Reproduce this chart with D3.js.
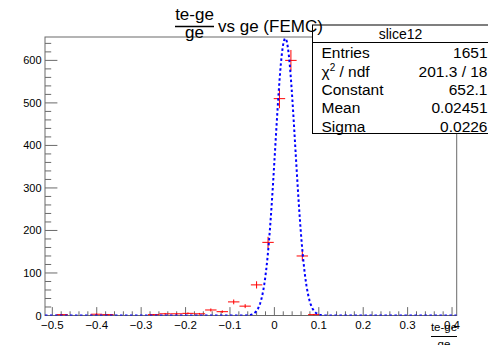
<!DOCTYPE html>
<html>
<head>
<meta charset="utf-8">
<script src="https://cdn.jsdelivr.net/npm/d3@7"></script>
<style>
  html, body { margin: 0; padding: 0; background: #fff; }
  svg { display: block; font-family: "Liberation Sans", Arial, Helvetica, sans-serif; }
</style>
</head>
<body>
<div id="chart"></div>
<script>
// ---- data ----
const binCenters = [-0.4779, -0.4006, -0.3748, -0.2718, -0.2461, -0.2203, -0.1946, -0.1688,
                    -0.1431, -0.1173, -0.0916, -0.0658, -0.0401, -0.0143, 0.0114, 0.0372, 0.0629, 0.0887];
const binCounts  = [2, 3, 2, 2, 4, 4, 5, 4,
                    13, 9, 32, 22, 72, 172, 510, 600, 140, 2];
const binWidth = 0.02575;
const xRange = [-0.5165, 0.4105];
const yRange = [0, 655];
const xTickLabels = ["\u22120.5", "\u22120.4", "\u22120.3", "\u22120.2", "\u22120.1", "0", "0.1", "0.2", "0.3", "0.4"];
const xTickValues = [-0.5, -0.4, -0.3, -0.2, -0.1, 0, 0.1, 0.2, 0.3, 0.4];
const yTickValues = [0, 100, 200, 300, 400, 500, 600];
const fitConstant = 652.1;
const fitMean = 0.02451;
const fitSigma = 0.0226;
const statsTitle = "slice12";
const statsLabels = ["Entries", "\u03C7", "Constant", "Mean", "Sigma"];
const statsValues = ["1651", "201.3 / 18", "652.1", "0.02451", "0.0226"];

// ---- layout ----
const W = 488, H = 345;
const frame = {left: 45, right: 456.7, top: 37, bottom: 315.5};

const svg = d3.select("#chart").append("svg").attr("width", W).attr("height", H);
svg.append("rect").attr("width", W).attr("height", H).attr("fill", "#fff");

const x = d3.scaleLinear().domain(xRange).range([frame.left, frame.right]);
const y = d3.scaleLinear().domain(yRange).range([frame.bottom, frame.top]);

const axisColor = "#6a6a6a";

// frame
svg.append("rect")
  .attr("x", frame.left).attr("y", frame.top)
  .attr("width", frame.right - frame.left).attr("height", frame.bottom - frame.top)
  .attr("fill", "none").attr("stroke", axisColor).attr("stroke-width", 1);

// x axis ticks (drawn upward, inside frame)
const xMinor = d3.range(-0.5, 0.4001, 0.02).map(v => +v.toFixed(3));
const xAx = svg.append("g");
xAx.selectAll("line.minor").data(xMinor).enter().append("line")
  .attr("x1", d => x(d)).attr("x2", d => x(d))
  .attr("y1", frame.bottom).attr("y2", d => frame.bottom - (xTickValues.some(t => Math.abs(t - d) < 1e-6) ? 8.4 : 4.2))
  .attr("stroke", axisColor).attr("stroke-width", 1);
xAx.selectAll("text").data(xTickValues).enter().append("text")
  .attr("x", d => x(d)).attr("y", 329)
  .attr("text-anchor", "middle").attr("font-size", 11.5).attr("fill", "#000")
  .text((d, i) => xTickLabels[i]);

// y axis ticks (drawn rightward)
const yMinor = d3.range(0, 641, 20);
const yAx = svg.append("g");
yAx.selectAll("line").data(yMinor).enter().append("line")
  .attr("x1", frame.left).attr("x2", d => frame.left + (d % 100 === 0 ? 12.4 : 6.2))
  .attr("y1", d => y(d)).attr("y2", d => y(d))
  .attr("stroke", axisColor).attr("stroke-width", 1);
yAx.selectAll("text").data(yTickValues).enter().append("text")
  .attr("x", 41.5).attr("y", d => y(d) + 4)
  .attr("text-anchor", "end").attr("font-size", 11).attr("fill", "#000")
  .text(d => d);

// clip
svg.append("clipPath").attr("id", "fclip").append("rect")
  .attr("x", frame.left).attr("y", frame.top - 3)
  .attr("width", frame.right - frame.left).attr("height", frame.bottom - frame.top + 3);

// histogram error bars
const hist = svg.append("g").attr("stroke", "#ff0000").attr("stroke-width", 1);
binCenters.forEach((c, i) => {
  const n = binCounts[i];
  const e = Math.sqrt(n);
  hist.append("line")
    .attr("x1", x(c - binWidth / 2)).attr("x2", x(c + binWidth / 2))
    .attr("y1", y(n)).attr("y2", y(n));
  hist.append("line")
    .attr("x1", x(c)).attr("x2", x(c))
    .attr("y1", y(n - e)).attr("y2", y(n + e));
});

// gaussian fit curve (from fit parameters)
const fitX = d3.range(0, 401).map(i => xRange[0] + (xRange[1] - xRange[0]) * i / 400);
const gauss = v => fitConstant * Math.exp(-0.5 * Math.pow((v - fitMean) / fitSigma, 2));
svg.append("path")
  .datum(fitX)
  .attr("clip-path", "url(#fclip)")
  .attr("d", d3.line().x(d => x(d)).y(d => y(gauss(d))))
  .attr("fill", "none").attr("stroke", "#0000ff").attr("stroke-width", 2)
  .attr("stroke-dasharray", "2.5,2.5");

// stats box
const sb = {x: 312.5, y: 25, w: 180, h: 108.5};
svg.append("rect").attr("x", sb.x).attr("y", sb.y).attr("width", sb.w).attr("height", sb.h)
  .attr("fill", "#fff").attr("stroke", "#000").attr("stroke-width", 1);
svg.append("line").attr("x1", sb.x).attr("x2", W).attr("y1", 42.5).attr("y2", 42.5)
  .attr("stroke", "#000").attr("stroke-width", 1);
svg.append("text").attr("x", 400.5).attr("y", 39).attr("text-anchor", "middle")
  .attr("font-size", 14).text(statsTitle);
const rowY = [58, 76.5, 95, 113.3, 131.5];
statsLabels.forEach((lab, i) => {
  const t = svg.append("text").attr("x", 321.5).attr("y", rowY[i]).attr("font-size", 15.5);
  if (i === 1) {
    t.append("tspan").text(lab);
    t.append("tspan").attr("font-size", 10).attr("dy", -6).text("2");
    t.append("tspan").attr("dy", 6).text(" / ndf");
  } else {
    t.text(lab);
  }
  svg.append("text").attr("x", 487.5).attr("y", rowY[i]).attr("text-anchor", "end")
    .attr("font-size", 15.5).text(statsValues[i]);
});

// title
const title = svg.append("g").attr("font-size", 17).attr("fill", "#000");
title.append("text").attr("x", 194.5).attr("y", 19.5).attr("text-anchor", "middle").text("te-ge");
title.append("line").attr("x1", 175).attr("x2", 214).attr("y1", 26.5).attr("y2", 26.5)
  .attr("stroke", "#000").attr("stroke-width", 1.3);
title.append("text").attr("x", 194.5).attr("y", 37.5).attr("text-anchor", "middle").text("ge");
title.append("text").attr("x", 218).attr("y", 31.5).text("vs ge (FEMC)");

// x axis title (fraction)
const xt = svg.append("g").attr("font-size", 11.5);
xt.append("text").attr("x", 444).attr("y", 331).attr("text-anchor", "middle").text("te-ge");
xt.append("line").attr("x1", 431).attr("x2", 457).attr("y1", 336.5).attr("y2", 336.5)
  .attr("stroke", "#000").attr("stroke-width", 1);
xt.append("text").attr("x", 444).attr("y", 347.5).attr("text-anchor", "middle").text("ge");
</script>
</body>
</html>
